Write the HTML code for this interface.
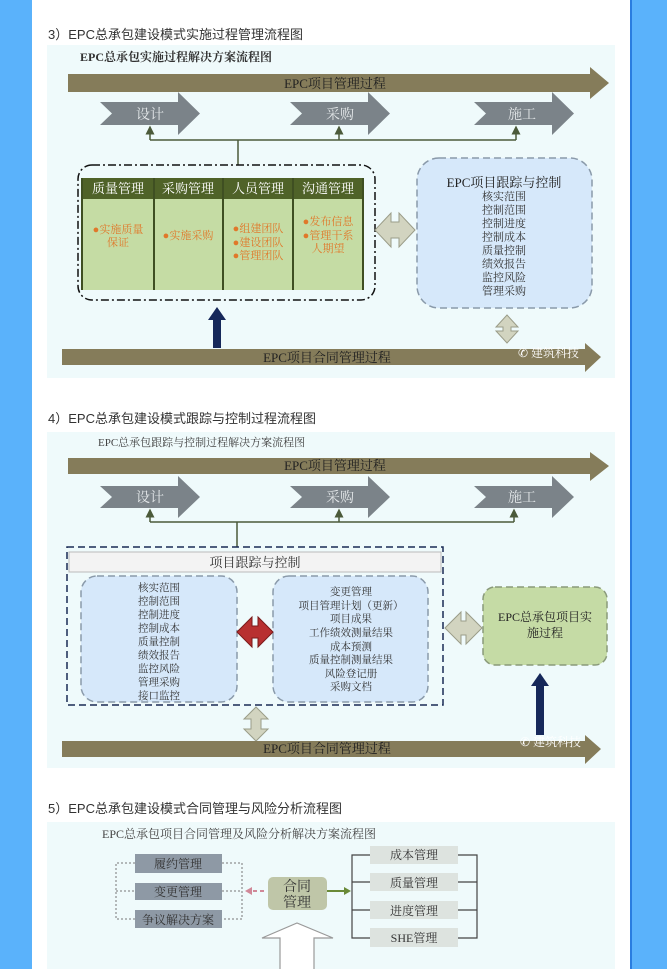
<!DOCTYPE html>
<html><head><meta charset="utf-8"><style>
html,body{margin:0;padding:0;background:#fff}
svg{display:block}
text{font-family:"Liberation Serif","Noto Serif CJK SC","Noto Sans CJK SC",serif}
.h{font-family:"Liberation Sans","Noto Sans CJK SC",sans-serif;font-size:13px;fill:#333}
</style></head><body>
<svg width="667" height="969" viewBox="0 0 667 969" xmlns="http://www.w3.org/2000/svg">
<defs>
<marker id="ua" markerWidth="6" markerHeight="6" refX="3" refY="3" orient="auto"><path d="M0,0 L6,3 L0,6z" fill="#4b5a3a"/></marker>
</defs>
<rect x="0" y="0" width="32" height="969" fill="#5ab2fb"/>
<rect x="630" y="0" width="37" height="969" fill="#5ab2fb"/>
<rect x="630" y="0" width="2" height="969" fill="#2a7de0"/>

<!-- Section 1 -->
<text class="h" x="48" y="39">3）EPC总承包建设模式实施过程管理流程图</text>
<rect x="47" y="45" width="568" height="333" fill="#effafb"/>
<text x="80" y="61" font-size="12" font-weight="bold" fill="#333">EPC总承包实施过程解决方案流程图</text>
<path d="M68,74 H590 V67 L609,83 L590,99 V92 H68z" fill="#857c5a"/>
<text x="335" y="88" font-size="13" text-anchor="middle" fill="#222">EPC项目管理过程</text>
<g fill="#7b8389">
<path d="M100,102 H178 V92 L200,113.5 L178,135 V125 H100 L112,113.5z"/>
<path d="M290,102 H368 V92 L390,113.5 L368,135 V125 H290 L302,113.5z"/>
<path d="M474,102 H552 V92 L574,113.5 L552,135 V125 H474 L486,113.5z"/>
</g>
<g font-size="14" fill="#e4e8ea" text-anchor="middle"><text x="150" y="119">设计</text><text x="340" y="119">采购</text><text x="522" y="119">施工</text></g>
<g stroke="#4b5a3a" stroke-width="1.5" fill="none">
<path d="M150,140 H516"/><path d="M238,140 V165"/>
<path d="M150,140 V130" marker-end="url(#ua)"/><path d="M339,140 V130" marker-end="url(#ua)"/><path d="M516,140 V130" marker-end="url(#ua)"/>
</g>
<rect x="78" y="165" width="297" height="135" rx="14" fill="none" stroke="#111" stroke-width="1.5" stroke-dasharray="8,3,2,3"/>
<rect x="82" y="178" width="281" height="112" fill="#c5dca4"/>
<rect x="82" y="178" width="281" height="21" fill="#4f6228"/>
<g stroke="#3f4f22" stroke-width="2"><line x1="154" y1="178" x2="154" y2="290"/><line x1="223" y1="178" x2="223" y2="290"/><line x1="293" y1="178" x2="293" y2="290"/><line x1="82" y1="178" x2="82" y2="290"/><line x1="363" y1="178" x2="363" y2="290"/></g>
<g font-size="13" fill="#fff" text-anchor="middle"><text x="118" y="193">质量管理</text><text x="188" y="193">采购管理</text><text x="258" y="193">人员管理</text><text x="328" y="193">沟通管理</text></g>
<g font-size="11" fill="#e0782a" text-anchor="middle">
<text x="118" y="233">●实施质量</text><text x="118" y="246">保证</text>
<text x="188" y="239">●实施采购</text>
<text x="258" y="232">●组建团队</text><text x="258" y="246">●建设团队</text><text x="258" y="259">●管理团队</text>
<text x="328" y="225">●发布信息</text><text x="328" y="239">●管理干系</text><text x="328" y="252">人期望</text>
</g>
<path d="M375,230 L391,213 V222 H399 V213 L415,230 L399,247 V238 H391 V247z" fill="#d2d4c0" stroke="#9a9c88"/>
<rect x="417" y="158" width="175" height="150" rx="22" fill="#d6e8fa" stroke="#8a9aaa" stroke-width="1.5" stroke-dasharray="7,4"/>
<text x="504" y="187" font-size="13" text-anchor="middle" fill="#222">EPC项目跟踪与控制</text>
<g font-size="11" fill="#333" text-anchor="middle">
<text x="504" y="200">核实范围</text><text x="504" y="213.5">控制范围</text><text x="504" y="227">控制进度</text><text x="504" y="240.5">控制成本</text><text x="504" y="254">质量控制</text><text x="504" y="267.5">绩效报告</text><text x="504" y="281">监控风险</text><text x="504" y="294.5">管理采购</text>
</g>
<path d="M213,348 V320 H208 L217,307 L226,320 H221 V348z" fill="#16285a"/>
<path d="M507,315 L518,327 H511 V331 H518 L507,343 L496,331 H503 V327 H496z" fill="#d2d4c0" stroke="#9a9c88"/>
<path d="M62,349 H585 V343 L601,357 L585,372 V365 H62z" fill="#857c5a"/>
<text x="327" y="362" font-size="13" text-anchor="middle" fill="#222">EPC项目合同管理过程</text>
<text x="518" y="357" font-size="12" fill="#fff" font-family="Liberation Sans,Noto Sans CJK SC,sans-serif">✆ 建筑科技</text>

<!-- Section 2 -->
<text class="h" x="48" y="423">4）EPC总承包建设模式跟踪与控制过程流程图</text>
<rect x="47" y="432" width="568" height="336" fill="#effafb"/>
<text x="98" y="446" font-size="11" fill="#444">EPC总承包跟踪与控制过程解决方案流程图</text>
<path d="M68,458 H590 V452 L609,466 L590,481 V474 H68z" fill="#857c5a"/>
<text x="335" y="470" font-size="13" text-anchor="middle" fill="#222">EPC项目管理过程</text>
<g fill="#7b8389">
<path d="M100,486 H178 V476 L200,497 L178,518 V508 H100 L112,497z"/>
<path d="M290,486 H368 V476 L390,497 L368,518 V508 H290 L302,497z"/>
<path d="M474,486 H552 V476 L574,497 L552,518 V508 H474 L486,497z"/>
</g>
<g font-size="14" fill="#e4e8ea" text-anchor="middle"><text x="150" y="502">设计</text><text x="340" y="502">采购</text><text x="522" y="502">施工</text></g>
<g stroke="#4b5a3a" stroke-width="1.5" fill="none">
<path d="M150,522 H514"/><path d="M237,522 V547"/>
<path d="M150,522 V513" marker-end="url(#ua)"/><path d="M339,522 V513" marker-end="url(#ua)"/><path d="M514,522 V513" marker-end="url(#ua)"/>
</g>
<rect x="67" y="547" width="376" height="158" fill="none" stroke="#1a2a55" stroke-width="1.5" stroke-dasharray="7,4"/>
<rect x="69" y="552" width="372" height="20" fill="#f3f3f3" stroke="#bbb"/>
<text x="255" y="567" font-size="13" text-anchor="middle" fill="#333">项目跟踪与控制</text>
<rect x="81" y="576" width="156" height="126" rx="16" fill="#d6e8fa" stroke="#8a9aaa" stroke-width="1.5" stroke-dasharray="7,4"/>
<rect x="273" y="576" width="155" height="126" rx="16" fill="#d6e8fa" stroke="#8a9aaa" stroke-width="1.5" stroke-dasharray="7,4"/>
<g font-size="10.5" fill="#333" text-anchor="middle">
<text x="159" y="591">核实范围</text><text x="159" y="604.5">控制范围</text><text x="159" y="618">控制进度</text><text x="159" y="631.5">控制成本</text><text x="159" y="645">质量控制</text><text x="159" y="658.5">绩效报告</text><text x="159" y="672">监控风险</text><text x="159" y="685.5">管理采购</text><text x="159" y="699">接口监控</text>
<text x="351" y="595">变更管理</text><text x="351" y="609">项目管理计划（更新）</text><text x="351" y="622">项目成果</text><text x="351" y="636">工作绩效测量结果</text><text x="351" y="650">成本预测</text><text x="351" y="663">质量控制测量结果</text><text x="351" y="677">风险登记册</text><text x="351" y="690">采购文档</text>
</g>
<path d="M237,632 L252,617 V626 H258 V617 L273,632 L258,647 V638 H252 V647z" fill="#b83030" stroke="#7a1a1a"/>
<path d="M445,628 L461,612 V621 H466 V612 L482,628 L466,644 V635 H461 V644z" fill="#d2d4c0" stroke="#9a9c88"/>
<rect x="483" y="587" width="124" height="78" rx="12" fill="#c5dba5" stroke="#8a9a7a" stroke-width="1.5" stroke-dasharray="7,4"/>
<text x="545" y="621" font-size="12" text-anchor="middle" fill="#222">EPC总承包项目实</text>
<text x="545" y="637" font-size="12" text-anchor="middle" fill="#222">施过程</text>
<path d="M536,735 V686 H531 L540,673 L549,686 H544 V735z" fill="#16285a"/>
<path d="M256,707 L268,719 H261 V729 H268 L256,741 L244,729 H251 V719 H244z" fill="#d2d4c0" stroke="#9a9c88"/>
<path d="M62,741 H585 V735 L601,749 L585,764 V757 H62z" fill="#857c5a"/>
<text x="327" y="753" font-size="13" text-anchor="middle" fill="#222">EPC项目合同管理过程</text>
<text x="520" y="746" font-size="12" fill="#fff" font-family="Liberation Sans,Noto Sans CJK SC,sans-serif">✆ 建筑科技</text>

<!-- Section 3 -->
<text class="h" x="48" y="813">5）EPC总承包建设模式合同管理与风险分析流程图</text>
<rect x="47" y="822" width="568" height="147" fill="#effafb"/>
<text x="102" y="838" font-size="12" fill="#444">EPC总承包项目合同管理及风险分析解决方案流程图</text>
<g stroke="#777" stroke-dasharray="2,2" fill="none"><path d="M135,863 H116 V919 H135"/><path d="M116,891 H135"/><path d="M222,863 H242 V919 H222"/><path d="M222,891 H242"/></g>
<g fill="#8e99a5"><rect x="135" y="854" width="87" height="19"/><rect x="135" y="883" width="87" height="17"/><rect x="135" y="910" width="87" height="18"/></g>
<g font-size="12" fill="#333" text-anchor="middle"><text x="178" y="868">履约管理</text><text x="178" y="896">变更管理</text><text x="178" y="924">争议解决方案</text></g>
<path d="M264,891 H250" stroke="#d08898" stroke-width="2" stroke-dasharray="4,3"/><path d="M245,891 l7,-4 v8z" fill="#d08898"/>
<rect x="268" y="877" width="59" height="33" rx="5" fill="#bfc6a8"/>
<text x="297" y="891" font-size="14" text-anchor="middle" fill="#333">合同</text><text x="297" y="907" font-size="14" text-anchor="middle" fill="#333">管理</text>
<path d="M327,891 H345" stroke="#6a8a38" stroke-width="2"/><path d="M351,891 l-7,-4 v8z" fill="#6a8a38"/>
<g stroke="#444" stroke-width="1.2" fill="none"><path d="M370,855 H352 V938 H370"/><path d="M352,882 H370"/><path d="M352,910 H370"/><path d="M458,855 H477 V938 H458"/><path d="M458,882 H477"/><path d="M458,910 H477"/></g>
<g fill="#dde3df"><rect x="370" y="846" width="88" height="18"/><rect x="370" y="873" width="88" height="18"/><rect x="370" y="901" width="88" height="18"/><rect x="370" y="928" width="88" height="19"/></g>
<g font-size="12" fill="#333" text-anchor="middle"><text x="414" y="859">成本管理</text><text x="414" y="887">质量管理</text><text x="414" y="915">进度管理</text><text x="414" y="942">SHE管理</text></g>
<path d="M280,969 V938 H262 L297,923 L333,938 H314 V969" fill="#fff" stroke="#999" stroke-width="1.2"/>
</svg>
</body></html>
